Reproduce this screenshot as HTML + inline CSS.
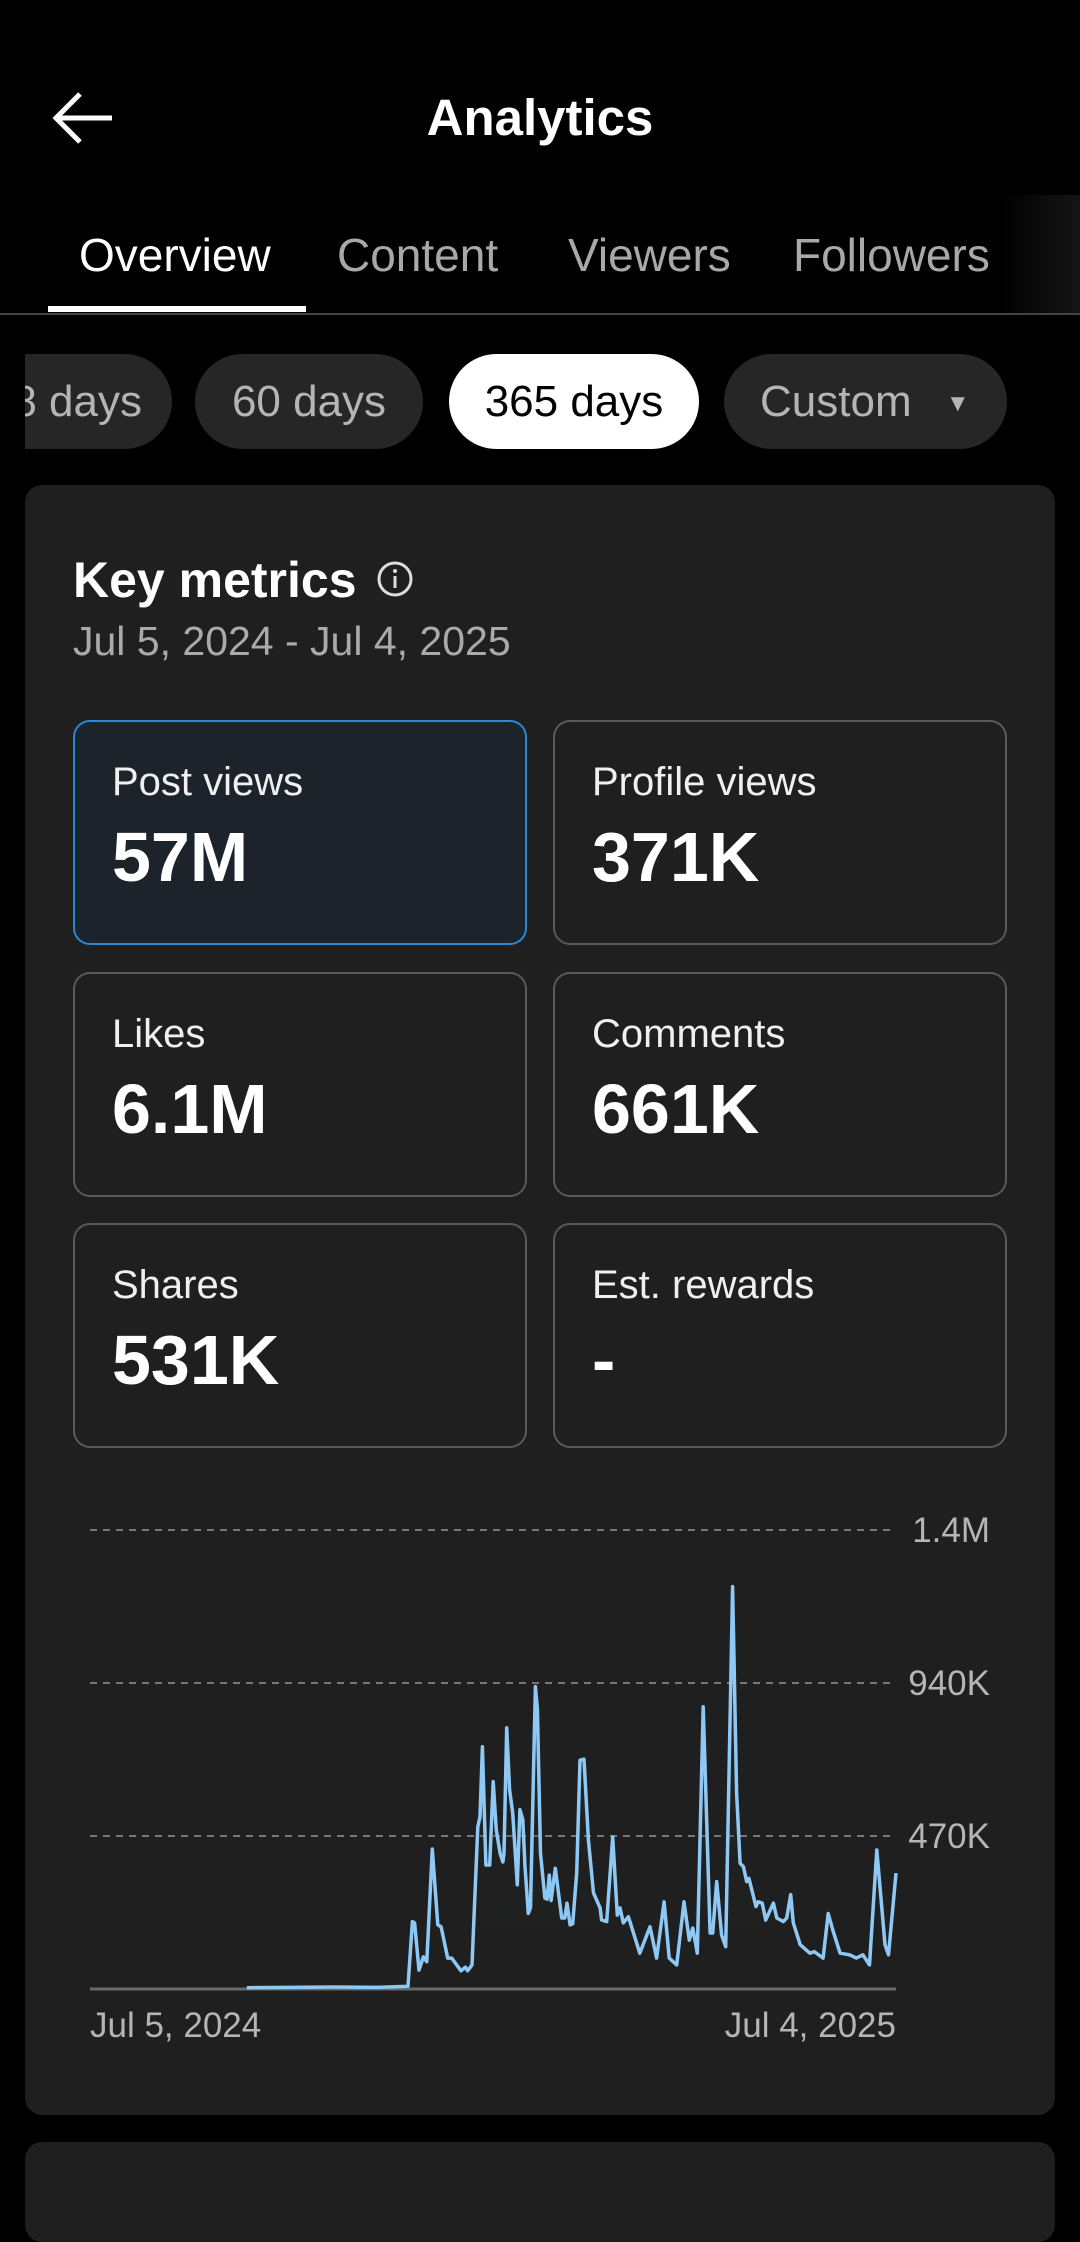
<!DOCTYPE html>
<html><head><meta charset="utf-8">
<style>
*{margin:0;padding:0;box-sizing:border-box}
body{width:1080px;height:2205px;background:#000;font-family:"Liberation Sans",sans-serif;color:#fff;position:relative;overflow:hidden}
.abs{position:absolute}
.tab{position:absolute;top:228px;font-size:46px;color:#a8a8a8;white-space:nowrap}
.pill{position:absolute;top:354px;height:95px;border-radius:48px;background:#262626;color:#b5b5b5;font-size:44px;line-height:95px;text-align:center}
.box{position:absolute;width:454px;height:225px;border:2px solid #595959;border-radius:17px}
.box .lbl{position:absolute;left:37px;top:38px;font-size:40px;color:#f0f0f0}
.box .val{position:absolute;left:37px;top:95px;font-size:70px;font-weight:bold;color:#fff}
</style></head><body>
<div class="abs" style="left:0;top:0;width:1080px;height:8px"></div>
<svg class="abs" style="left:50px;top:90px" width="70" height="56" viewBox="0 0 70 56"><path d="M62 28H6M30 4L6 28L30 52" stroke="#fff" stroke-width="5" fill="none"/></svg>
<div class="abs" style="left:0;width:1080px;top:88px;text-align:center;font-size:51px;font-weight:bold">Analytics</div>

<div class="tab" style="left:79px;color:#fff">Overview</div>
<div class="tab" style="left:337px">Content</div>
<div class="tab" style="left:568px">Viewers</div>
<div class="tab" style="left:793px">Followers</div>
<div class="tab" style="left:1052px;color:#444">L</div>
<div class="abs" style="left:1000px;top:195px;width:80px;height:118px;background:linear-gradient(90deg,#000,#151515)"></div>
<div class="abs" style="left:48px;top:306px;width:258px;height:6px;background:#fff"></div>
<div class="abs" style="left:0;top:313px;width:1080px;height:2px;background:#444"></div>

<div class="abs" style="left:25px;top:0;width:1055px;height:460px;overflow:hidden">
<div class="pill" style="left:-90px;width:237px;text-align:right;padding-right:30px">28 days</div>
<div class="pill" style="left:170px;width:228px">60 days</div>
<div class="pill" style="left:424px;width:250px;background:#fff;color:#000">365 days</div>
<div class="pill" style="left:699px;width:283px;text-align:left;padding-left:36px">Custom <span style="font-size:24px;margin-left:22px;position:relative;top:-5px">▼</span></div>
</div>

<div class="abs" style="left:25px;top:485px;width:1030px;height:1630px;background:#1f1f1f;border-radius:17px"></div>
<div class="abs" style="left:73px;top:551px;font-size:50px;font-weight:bold">Key metrics</div>
<svg class="abs" style="left:376px;top:560px" width="38" height="38"><circle cx="19" cy="19" r="16" stroke="#ddd" stroke-width="3" fill="none"/><rect x="17.5" y="16" width="3" height="12" fill="#ddd"/><circle cx="19" cy="11" r="2" fill="#ddd"/></svg>
<div class="abs" style="left:73px;top:618px;font-size:41px;color:#aaa">Jul 5, 2024 - Jul 4, 2025</div>

<div class="box" style="left:73px;top:720px;border-color:#2a86d8;background:#1c232a"><div class="lbl">Post views</div><div class="val">57M</div></div>
<div class="box" style="left:553px;top:720px"><div class="lbl">Profile views</div><div class="val">371K</div></div>
<div class="box" style="left:73px;top:972px"><div class="lbl">Likes</div><div class="val">6.1M</div></div>
<div class="box" style="left:553px;top:972px"><div class="lbl">Comments</div><div class="val">661K</div></div>
<div class="box" style="left:73px;top:1223px"><div class="lbl">Shares</div><div class="val">531K</div></div>
<div class="box" style="left:553px;top:1223px"><div class="lbl">Est. rewards</div><div class="val">-</div></div>

<svg class="abs" id="chart" style="left:0;top:0" width="1080" height="2205">
<defs><linearGradient id="fillg" x1="0" y1="0" x2="0" y2="1"><stop offset="0" stop-color="#2a3440" stop-opacity="0.6"/><stop offset="1" stop-color="#1f1f1f" stop-opacity="0"/></linearGradient></defs>
</svg>

<div class="abs" style="left:25px;top:2142px;width:1030px;height:100px;background:#1f1f1f;border-radius:17px"></div>

<script>
const days=[71,90,110,130,143,144,146,147,149,151,152.5,155,157,157.5,159,162,163.8,168,170,171,173,175.6,176.6,177.7,179.3,181,182.6,184,185.7,187,187.5,188.7,190,191.4,193.5,194.7,196,197,198.5,199.5,201.7,202.6,204,206,207,208,208.8,210.7,213.6,215,216,217.4,218.6,220.4,221.9,223.7,225.7,228,231,231.7,234,236.7,238.8,240,241.5,243.8,249,253.6,256.6,260,262.3,265.7,269,271.4,273,275,277.7,280.8,282,283.8,286,287.9,291,292.8,294.4,295.9,297.4,298.4,301.6,302.6,304.4,306,309.5,311,314,315.5,317.3,318.5,321.6,326,328,332,334.3,336.6,339.7,344,347,350,353,356.3,360,361.6,365];
const viewsK=[4,5,6,5,8,9,207,203,58,99,84,430,243,197,191,95,95,56,67,56,74,498,529,744,381,381,637,488,417,390,417,802,612,541,320,551,520,376,232,250,929,860,417,279,276,350,272,371,218,218,264,197,200,356,703,706,458,295,249,212,207,467,227,249,203,222,110,191,95,268,95,74,268,150,187,110,867,172,172,330,166,130,1236,602,386,376,330,340,253,268,264,212,264,218,207,218,290,203,136,110,115,95,232,176,110,105,95,105,74,427,136,105,356];
const yTicks=[470,940,1410];
const yTickLabels=["470K","940K","1.4M"];
const xLabels=["Jul 5, 2024","Jul 4, 2025"];
const X0=90,X1=896,Y0=1989,PXK=153/470;
const xs=d=>X0+(d/365)*(X1-X0);
const ys=v=>Y0-v*PXK;
const svg=document.getElementById('chart');
const NS='http://www.w3.org/2000/svg';
function mk(t,a){const e=document.createElementNS(NS,t);for(const k in a)e.setAttribute(k,a[k]);svg.appendChild(e);return e;}
yTicks.forEach((v,i)=>{
 const l=mk('line',{x1:X0,x2:X1,y1:ys(v),y2:ys(v),stroke:'#777','stroke-width':2,'stroke-dasharray':'7 6'});
 
 
 const t=mk('text',{x:990,y:ys(v)+12,'text-anchor':'end','font-size':35,fill:'#b5b5b5','font-family':'Liberation Sans, sans-serif'});
 t.textContent=yTickLabels[i];
 
 
});
let d='';days.forEach((dd,i)=>{d+=(i?'L':'M')+xs(dd).toFixed(1)+' '+ys(viewsK[i]).toFixed(1);});
const area=mk('path',{d:d+'L'+xs(days[days.length-1])+' '+Y0+'L'+xs(days[0])+' '+Y0+'Z',fill:'url(#fillg)'});


const base=mk('line',{x1:X0,x2:X1,y1:Y0,y2:Y0,stroke:'#6a6a6a','stroke-width':3});


const line=mk('path',{d:d,fill:'none',stroke:'#8ec8f5','stroke-width':3.5,'stroke-linejoin':'round'});


const xl=mk('text',{x:X0,y:2037,'font-size':35,fill:'#b5b5b5','font-family':'Liberation Sans, sans-serif'});
xl.textContent=xLabels[0];


const xr=mk('text',{x:X1,y:2037,'text-anchor':'end','font-size':35,fill:'#b5b5b5','font-family':'Liberation Sans, sans-serif'});
xr.textContent=xLabels[1];


</script>
</body></html>
